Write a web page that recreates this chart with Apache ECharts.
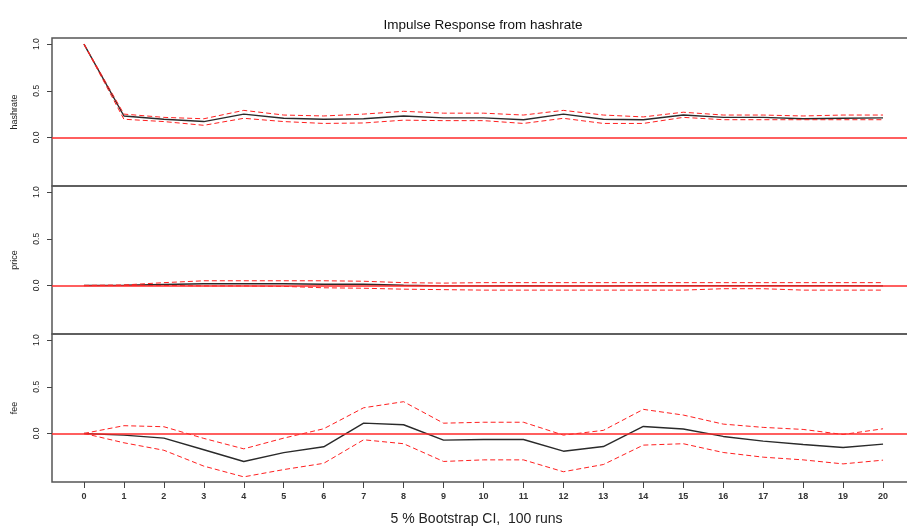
<!DOCTYPE html>
<html><head><meta charset="utf-8">
<script src="https://cdn.jsdelivr.net/npm/echarts@6/dist/echarts.min.js"></script>
<style>html,body{margin:0;padding:0;background:#fff}#c{width:907px;height:527px}</style>
</head><body><div id="c"></div>
<script>
// ---- data ----
const horizons = [0,1,2,3,4,5,6,7,8,9,10,11,12,13,14,15,16,17,18,19,20];
const xTickLabels = ['0','1','2','3','4','5','6','7','8','9','10','11','12','13','14','15','16','17','18','19','20'];
const yTickValues = [0, 0.5, 1.0];
const panelNames = ['hashrate', 'price', 'fee'];

const hashrateIrf   = [1.0, 0.23, 0.195, 0.17, 0.25, 0.205, 0.195, 0.20, 0.23, 0.21, 0.21, 0.19, 0.25, 0.195, 0.19, 0.24, 0.215, 0.215, 0.20, 0.205, 0.21];
const hashrateUpper = [1.0, 0.25, 0.215, 0.20, 0.29, 0.24, 0.23, 0.25, 0.28, 0.26, 0.26, 0.24, 0.29, 0.24, 0.22, 0.27, 0.24, 0.24, 0.23, 0.24, 0.24];
const hashrateLower = [1.0, 0.195, 0.17, 0.13, 0.205, 0.17, 0.15, 0.155, 0.185, 0.18, 0.18, 0.15, 0.205, 0.15, 0.15, 0.215, 0.19, 0.19, 0.19, 0.19, 0.19];

const priceIrf   = [0, 0.002, 0.01, 0.018, 0.018, 0.018, 0.012, 0.012, 0.002, -0.005, -0.005, -0.002, -0.005, -0.005, -0.002, -0.002, -0.002, -0.002, -0.002, -0.002, -0.005];
const priceUpper = [0, 0.005, 0.03, 0.05, 0.05, 0.05, 0.05, 0.045, 0.03, 0.025, 0.03, 0.03, 0.03, 0.03, 0.03, 0.03, 0.03, 0.03, 0.03, 0.03, 0.03];
const priceLower = [0, 0.0, 0.0, -0.005, -0.005, -0.01, -0.025, -0.03, -0.04, -0.045, -0.05, -0.05, -0.05, -0.05, -0.05, -0.05, -0.035, -0.035, -0.05, -0.05, -0.05];

const feeIrf   = [0, -0.018, -0.05, -0.175, -0.30, -0.205, -0.143, 0.11, 0.093, -0.072, -0.065, -0.065, -0.19, -0.14, 0.075, 0.047, -0.032, -0.082, -0.118, -0.15, -0.114];
const feeUpper = [0, 0.083, 0.072, -0.053, -0.165, -0.05, 0.05, 0.275, 0.34, 0.11, 0.12, 0.12, -0.018, 0.033, 0.258, 0.197, 0.10, 0.065, 0.043, -0.011, 0.05];
const feeLower = [0, -0.10, -0.18, -0.35, -0.465, -0.387, -0.32, -0.068, -0.11, -0.30, -0.283, -0.283, -0.41, -0.333, -0.125, -0.11, -0.204, -0.254, -0.283, -0.326, -0.286];

const panels = [
  [hashrateIrf, hashrateUpper, hashrateLower],
  [priceIrf, priceUpper, priceLower],
  [feeIrf, feeUpper, feeLower]
];

// ---- chart ----
const FONT = '"Liberation Sans", Arial, sans-serif';
const pair = arr => horizons.map((h, i) => [h, arr[i]]);

const grids = [], xAxes = [], yAxes = [], series = [];
panels.forEach((p, i) => {
  const last = i === panels.length - 1;
  grids.push({left: 52, top: 38 + i * 148, width: 863, height: 148, show: true,
              outerBoundsMode: 'none', containLabel: false,
              borderColor: '#555', borderWidth: 1.5, backgroundColor: 'transparent'});
  xAxes.push({
    gridIndex: i, type: 'value', min: -0.8, max: 20.8,
    axisLine: {show: false, onZero: false},
    splitLine: {show: false},
    axisTick: {show: last, customValues: horizons, length: 6, lineStyle: {color: '#444', width: 1}},
    axisLabel: {show: last, customValues: horizons, margin: 10, fontSize: 9, fontWeight: 'bold',
                color: '#333', fontFamily: FONT,
                formatter: v => xTickLabels[horizons.indexOf(Math.round(v))]},
    name: last ? '5 % Bootstrap CI,  100 runs' : '',
    nameLocation: 'middle', nameGap: 30,
    nameTextStyle: {fontSize: 14, color: '#222', fontFamily: FONT, padding: [0, 14, 0, 0]}
  });
  yAxes.push({
    gridIndex: i, type: 'value', min: -0.52, max: 1.065,
    axisLine: {show: false, onZero: false},
    splitLine: {show: false},
    axisTick: {show: true, customValues: yTickValues, length: 5, lineStyle: {color: '#444', width: 1}},
    axisLabel: {customValues: yTickValues, rotate: 90, margin: 11, fontSize: 8.5, color: '#222',
                fontFamily: FONT, formatter: v => v.toFixed(1)},
    name: panelNames[i], nameLocation: 'middle', nameGap: 33,
    nameTextStyle: {fontSize: 9, color: '#222', fontFamily: FONT}
  });
  series.push({
    type: 'line', xAxisIndex: i, yAxisIndex: i, data: [], silent: true,
    markLine: {silent: true, symbol: 'none', animation: false, label: {show: false},
               lineStyle: {color: '#ff2a2a', width: 1.5, type: 'solid'}, data: [{yAxis: 0}]}
  });
  series.push({
    type: 'line', xAxisIndex: i, yAxisIndex: i, data: pair(p[0]), showSymbol: false,
    lineStyle: {color: '#2a2a2a', width: 1.4}, silent: true, z: 3
  });
  [p[1], p[2]].forEach(arr => series.push({
    type: 'line', xAxisIndex: i, yAxisIndex: i, data: pair(arr), showSymbol: false,
    lineStyle: {color: '#ff2020', width: 1, type: [5, 3]}, silent: true, z: 4
  }));
});

const chart = echarts.init(document.getElementById('c'), null, {renderer: 'canvas'});
chart.setOption({
  animation: false,
  backgroundColor: '#fff',
  title: {text: 'Impulse Response from hashrate', left: 478, top: 13, textAlign: 'center',
          textStyle: {fontSize: 13.5, fontWeight: 'normal', color: '#111', fontFamily: FONT}},
  grid: grids, xAxis: xAxes, yAxis: yAxes, series: series
});
</script></body></html>
